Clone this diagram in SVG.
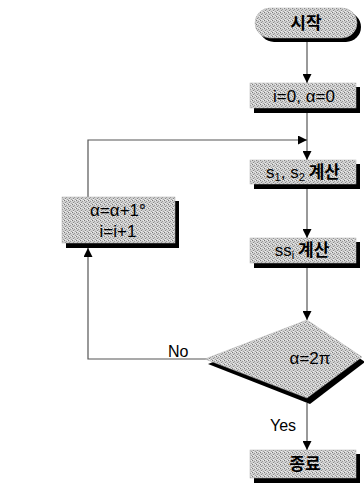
<svg xmlns="http://www.w3.org/2000/svg" width="364" height="491" viewBox="0 0 364 491">
<defs>
<pattern id="dots" width="4" height="4" patternUnits="userSpaceOnUse">
<rect width="4" height="4" fill="#d0d0d0"/>
<rect x="0" y="0" width="1" height="1" fill="#7a7a7a"/>
<rect x="2" y="1" width="1" height="1" fill="#9a9a9a"/>
<rect x="1" y="2" width="1" height="1" fill="#8a8a8a"/>
<rect x="3" y="3" width="1" height="1" fill="#a0a0a0"/>
<rect x="3" y="0" width="1" height="1" fill="#eeeeee"/>
<rect x="1" y="3" width="1" height="1" fill="#eeeeee"/>
</pattern>
<marker id="arr" viewBox="0 0 10 10" refX="10" refY="5" markerWidth="9" markerHeight="9" markerUnits="userSpaceOnUse" orient="auto">
<path d="M0,0 L10,5 L0,10 z" fill="#000"/>
</marker>
</defs>
<style>
.box{fill:url(#dots);stroke:#b0b0b0;stroke-width:0.5}
.sh{fill:#000}
.t{font-family:"Liberation Sans","Noto Sans CJK KR",sans-serif;font-size:17px;fill:#000;text-anchor:middle}
.k{font-family:"Noto Sans CJK KR","Liberation Sans",sans-serif;font-weight:bold}
.lbl{font-family:"Liberation Sans",sans-serif;font-size:16px;fill:#000}
.c{fill:none;stroke:#555;stroke-width:1.2}
</style>
<rect width="364" height="491" fill="#fff"/>
<g id="connectors">
<line class="c" x1="307" y1="42" x2="307" y2="83" marker-end="url(#arr)"/>
<line class="c" x1="307" y1="113" x2="307" y2="160" marker-end="url(#arr)"/>
<polyline class="c" points="88,197 88,140 307,140" marker-end="url(#arr)"/>
<line class="c" x1="307" y1="189" x2="307" y2="238" marker-end="url(#arr)"/>
<line class="c" x1="307" y1="268" x2="307" y2="320" marker-end="url(#arr)"/>
<polyline class="c" points="207,359 88,359 88,248" marker-end="url(#arr)"/>
<line class="c" x1="307" y1="403" x2="307" y2="450" marker-end="url(#arr)"/>
<text class="lbl" x="168" y="357">No</text>
<text class="lbl" x="270" y="431">Yes</text>
</g>
<g id="start">
<rect class="sh" x="259" y="12" width="102" height="30" rx="15"/>
<rect class="box" x="255" y="8" width="102" height="30" rx="15"/>
<text class="t k" x="306" y="29">시작</text>
</g>
<g id="init">
<rect class="sh" x="254" y="87" width="106" height="26"/>
<rect class="box" x="250" y="83" width="106" height="25"/>
<text class="t" x="304" y="102">i=0, α=0</text>
</g>
<g id="calc-s">
<rect class="sh" x="254" y="164" width="106" height="25"/>
<rect class="box" x="250" y="160" width="106" height="24"/>
<text class="t" x="303" y="178">s<tspan font-size="11" dy="3">1</tspan><tspan dy="-3">, s</tspan><tspan font-size="11" dy="3">2</tspan><tspan dy="-3" class="k"> 계산</tspan></text>
</g>
<g id="calc-ss">
<rect class="sh" x="254" y="242" width="106" height="26"/>
<rect class="box" x="250" y="238" width="106" height="25"/>
<text class="t" x="302" y="256">ss<tspan font-size="11" dy="3">i</tspan><tspan dy="-3" class="k"> 계산</tspan></text>
</g>
<g id="decision">
<polygon class="sh" points="310,325 365,362 310,404 208,364"/>
<polygon class="box" points="307,320 362,357 307,398 205,359"/>
<text class="t" x="310" y="364">α=2π</text>
</g>
<g id="update">
<rect class="sh" x="66" y="201" width="113" height="47"/>
<rect class="box" x="62" y="197" width="113" height="46"/>
<text class="t" x="118" y="216">α=α+1°</text>
<text class="t" x="118" y="237">i=i+1</text>
</g>
<g id="end">
<rect class="sh" x="254" y="454" width="106" height="29"/>
<rect class="box" x="250" y="450" width="106" height="28"/>
<text class="t k" x="305" y="470">종료</text>
</g>
</svg>
